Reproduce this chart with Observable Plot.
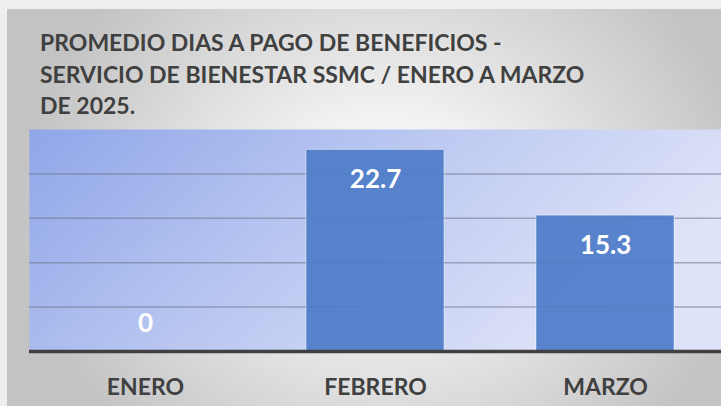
<!DOCTYPE html>
<html>
<head>
<meta charset="utf-8">
<script src="https://cdn.jsdelivr.net/npm/d3@7"></script>
<script src="https://cdn.jsdelivr.net/npm/@observablehq/plot@0.6"></script>
<style>
  html, body { margin: 0; padding: 0; background: #eeeeee; }
  #wrap { position: relative; width: 721px; height: 406px; overflow: hidden; background: #eeeeee; }
  #card { position: absolute; left: 7px; top: 9px; width: 716px; height: 400px;
    background: radial-gradient(ellipse 52% 78% at 53% 50%, #ffffff 0%, #f2f2f2 30%, #c3c3c3 100%); }
  #title { position: absolute; left: 40px; top: 27px; font-family: Lato, "Open Sans", sans-serif;
    font-weight: 700; font-size: 23px; line-height: 31.5px; color: #404040; white-space: nowrap; }
  #chart { position: absolute; left: 0; top: 125px; }
  #chart svg { background: transparent; overflow: visible; }
</style>
</head>
<body>
<div id="wrap">
  <div id="card"></div>
  <div id="title">PROMEDIO DIAS A PAGO DE BENEFICIOS -<br>SERVICIO DE BIENESTAR SSMC / ENERO A MARZO<br>DE 2025.</div>
  <div id="chart"></div>
</div>
<script>
const months = ["ENERO", "FEBRERO", "MARZO"];
const values = [0, 22.7, 15.3];
const gridTicks = [5, 10, 15, 20];

const data = months.map((m, i) => ({month: m, value: values[i]}));

const plot = Plot.plot({
  width: 721,
  height: 281,
  marginLeft: 29,
  marginRight: 0,
  marginTop: 4,
  marginBottom: 55,
  style: {fontFamily: "Lato, 'Open Sans', sans-serif", background: "transparent", overflow: "visible"},
  x: {domain: months, paddingInner: 0.4, paddingOuter: 0.2, label: null},
  y: {domain: [0, 25], axis: null},
  marks: [
    Plot.frame({fill: "url(#plotbg)", stroke: null}),
    Plot.ruleY(gridTicks, {stroke: "#6e7488", strokeOpacity: 0.55, strokeWidth: 1.5}),
    Plot.barY(data, {x: "month", y: "value", fill: "#4f7cc8", fillOpacity: 0.93, stroke: "#ffffff", strokeOpacity: 0.45, strokeWidth: 1}),
    Plot.ruleY([0], {stroke: "#404040", strokeWidth: 3.5}),
    Plot.text(data.filter(d => d.value > 0), {x: "month", y: "value", text: d => d.value.toFixed(1), dy: 30, fill: "white", fontSize: 26, fontWeight: "bold"}),
    Plot.text(data.filter(d => d.value === 0), {x: "month", y: "value", text: d => String(d.value), dy: -28, fill: "white", fontSize: 26, fontWeight: "bold"}),
    Plot.axisX({tickSize: 0, tickPadding: 27, fontSize: 23, fontWeight: "bold", fill: "#404040", label: null})
  ]
});

const ns = "http://www.w3.org/2000/svg";
const defs = document.createElementNS(ns, "defs");
const grad = document.createElementNS(ns, "linearGradient");
grad.setAttribute("id", "plotbg");
grad.setAttribute("x1", "0"); grad.setAttribute("y1", "0");
grad.setAttribute("x2", "1"); grad.setAttribute("y2", "0.35");
[["0", "#8fa6e8"], ["0.45", "#b6c4f0"], ["1", "#dfe3f8"]].forEach(([o, c]) => {
  const s = document.createElementNS(ns, "stop");
  s.setAttribute("offset", o); s.setAttribute("stop-color", c);
  grad.appendChild(s);
});
defs.appendChild(grad);
plot.insertBefore(defs, plot.firstChild);

document.getElementById("chart").appendChild(plot);
</script>
</body>
</html>
